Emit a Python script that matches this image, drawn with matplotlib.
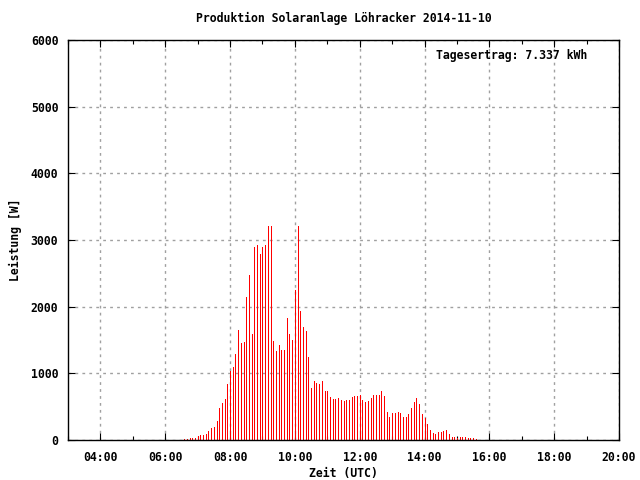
import numpy as np
import matplotlib
matplotlib.use('Agg')
import matplotlib.pyplot as plt
from matplotlib.ticker import MultipleLocator, FuncFormatter

plt.rcParams['font.family'] = 'DejaVu Sans Mono'
plt.rcParams['font.weight'] = 'bold'
plt.rcParams['axes.labelweight'] = 'bold'
plt.rcParams['font.size'] = 8.3

# 5-minute samples, first one at 06:35 UTC
start_hour = 6 + 35 / 60
step_hours = 5 / 60
watts = [15, 15, 30, 30, 30, 60, 75, 75, 90, 135,
         180, 195, 285, 480, 555, 615, 840, 1035, 1095, 1290,
         1650, 1455, 1470, 2145, 2475, 1590, 2895, 2925, 2790, 2895,
         2925, 3210, 3210, 1485, 1335, 1425, 1350, 1350, 1830, 1590,
         1500, 2250, 3210, 1935, 1695, 1635, 1245, 780, 885, 855,
         840, 885, 735, 735, 645, 615, 615, 630, 600, 585,
         600, 600, 645, 660, 660, 675, 600, 570, 585, 630,
         675, 675, 675, 735, 660, 420, 345, 405, 405, 420,
         405, 345, 345, 390, 480, 570, 630, 540, 390, 330,
         240, 150, 105, 90, 120, 120, 135, 150, 90, 45,
         45, 30, 45, 45, 45, 30, 30, 30, 15]
hours = start_hour + np.arange(len(watts)) * step_hours

title = 'Produktion Solaranlage Löhracker 2014-11-10'
yield_text = 'Tagesertrag: 7.337 kWh'

fig = plt.figure(figsize=(6.4, 4.8), dpi=100)
ax = fig.add_axes([68 / 640, 40 / 480, 551 / 640, 400 / 480])

ax.vlines(hours, 0, watts, colors='#ff0000', linewidth=0.72, antialiased=False, zorder=3)

ax.set_xlim(3, 20)
ax.set_ylim(0, 6000)
ax.xaxis.set_major_locator(MultipleLocator(2))
ax.xaxis.set_minor_locator(MultipleLocator(1))
ax.yaxis.set_major_locator(MultipleLocator(1000))
ax.xaxis.set_major_formatter(FuncFormatter(lambda v, p: '%02d:00' % int(round(v)) if v >= 4 else ''))

ax.grid(True, which='major', color='#a0a0a0', linestyle=(0, (2, 3)), linewidth=1.0, zorder=0)
ax.tick_params(which='both', direction='in', top=True, right=True, width=0.8, colors='black')
ax.tick_params(which='major', length=5, pad=8)
ax.tick_params(axis='y', which='major', pad=7)
ax.tick_params(which='minor', length=3)
for s in ax.spines.values():
    s.set_linewidth(1.0)
    s.set_zorder(5)

ax.set_ylabel('Leistung [W]', labelpad=6)
cx = 343.5 / 640
fig.text(cx, 1 - 473 / 480, 'Zeit (UTC)', ha='center', va='center')
fig.text(cx, 1 - 18 / 480, title, ha='center', va='center')
ax.text(0.942, 0.96, yield_text, transform=ax.transAxes, ha='right', va='center')

fig.savefig('out.png', dpi=100)
